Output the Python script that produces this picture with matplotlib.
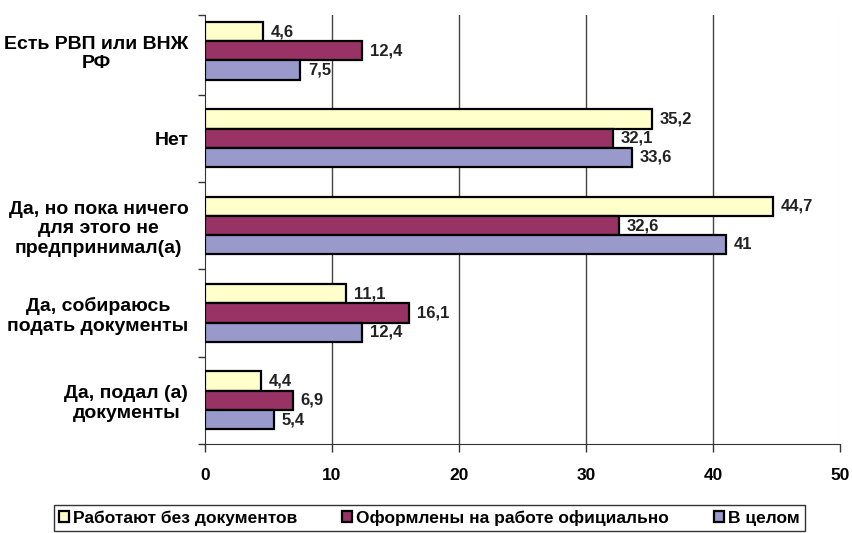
import numpy as np
import matplotlib.pyplot as plt

categories = ['Есть РВП или ВНЖ\nРФ', 'Нет', 'Да, но пока ничего\nдля этого не\nпредпринимал(а)',
              'Да, собираюсь\nподать документы', 'Да, подал (а)\nдокументы']
series_names = ['Работают без документов', 'Оформлены на работе официально', 'В целом']
no_docs = [4.6, 35.2, 44.7, 11.1, 4.4]
official = [12.4, 32.1, 32.6, 16.1, 6.9]
overall = [7.5, 33.6, 41, 12.4, 5.4]
colors = ['#FFFFCC', '#993366', '#9999CC']

plt.rcParams['font.family'] = ['Liberation Sans', 'DejaVu Sans']

fig = plt.figure(figsize=(8.53, 5.33), dpi=100)
ax = fig.add_axes([205 / 853, 1 - 444 / 533, 635 / 853, 429 / 533])

n = len(categories)
y = np.arange(n)
h = 0.22
top = -0.41
data = [no_docs, official, overall]
for i, (vals, c, name) in enumerate(zip(data, colors, series_names)):
    pos = y + (i - 1) * h
    bars = ax.barh(pos, vals, height=h, color=c, edgecolor='black', linewidth=1.6,
                   label=name, zorder=3)
    for b, v in zip(bars, vals):
        txt = ('%g' % v).replace('.', ',')
        ax.text(v + 0.6, b.get_y() + h / 2, txt, va='center', ha='left',
                fontsize=12, fontweight='bold', color='#222222', zorder=4)

ax.set_ylim(n - 0.5, top)
ax.set_xlim(0, 50)
ax.set_xticks([0, 10, 20, 30, 40, 50])
ax.set_xticklabels(['0', '10', '20', '30', '40', '50'], fontsize=12.5, fontweight='bold')
ax.tick_params(axis='x', length=6, width=1, pad=11, color='#333333')

ax.set_yticks(y)
ax.set_yticklabels(categories, fontsize=14, fontweight='bold', ha='right',
                   multialignment='center')
ax.tick_params(axis='y', length=0, pad=12)
ax.set_yticks([top] + list(np.arange(0.5, n, 1)), minor=True)
ax.tick_params(axis='y', which='minor', length=5, width=1, color='#333333')

for x in [10, 20, 30, 40]:
    ax.axvline(x, color='#444444', linewidth=1, zorder=1)
ax.axvline(50, color='#eeeeee', linewidth=0.8, zorder=1)

for s in ['top', 'right']:
    ax.spines[s].set_visible(False)
ax.spines['left'].set_color('#333333')
ax.spines['bottom'].set_color('#333333')

leg = fig.legend(loc='lower center', bbox_to_anchor=(0.503, 0.0), ncol=3, frameon=True,
                 fancybox=False, edgecolor='black', handlelength=0.6, handleheight=0.6,
                 handletextpad=0.2, columnspacing=2.6, borderpad=0.3, borderaxespad=0.1,
                 prop={'weight': 'bold', 'size': 12.5})
leg.get_frame().set_linewidth(1)

fig.savefig('out.png', dpi=100)
